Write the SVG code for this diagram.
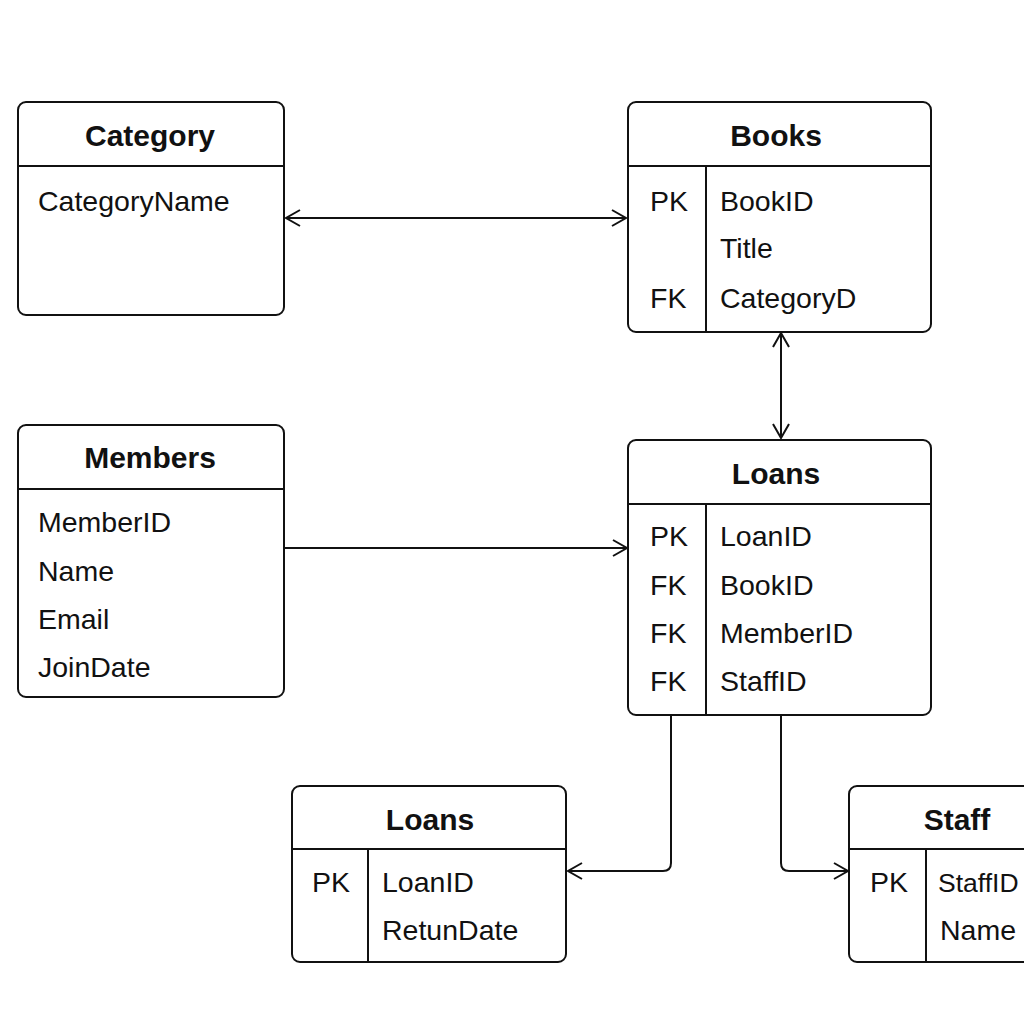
<svg xmlns="http://www.w3.org/2000/svg" width="1024" height="1024" viewBox="0 0 1024 1024">
<defs>
<style>
.box{fill:#fff;stroke:#111;stroke-width:2}
.ln{stroke:#111;stroke-width:2;fill:none}
.t{font-family:"Liberation Sans",Arial,sans-serif;font-size:30px;font-weight:bold;fill:#111;text-anchor:middle}
.f{font-family:"Liberation Sans",Arial,sans-serif;font-size:28.5px;fill:#111}
.c{fill:none;stroke:#111;stroke-width:2}
</style>
<marker id="arr" viewBox="0 0 20 20" refX="18" refY="10" markerWidth="20" markerHeight="20" markerUnits="userSpaceOnUse" orient="auto-start-reverse">
<path d="M4 2 L18 10 L4 18" fill="none" stroke="#111" stroke-width="2"/>
</marker>
</defs>
<rect width="1024" height="1024" fill="#fff"/>
<g id="category">
<rect class="box" x="18" y="102" width="266" height="213" rx="8"/>
<line class="ln" x1="18" y1="166" x2="284" y2="166"/>
<text class="t" x="150" y="146">Category</text>
<text class="f" x="38" y="211">CategoryName</text>
</g>
<g id="books">
<rect class="box" x="628" y="102" width="303" height="230" rx="8"/>
<line class="ln" x1="628" y1="166" x2="931" y2="166"/>
<line class="ln" x1="706" y1="166" x2="706" y2="332"/>
<text class="t" x="776" y="146">Books</text>
<text class="f" x="650" y="211">PK</text>
<text class="f" x="720" y="211">BookID</text>
<text class="f" x="720" y="258">Title</text>
<text class="f" x="650" y="308">FK</text>
<text class="f" x="720" y="308">CategoryD</text>
</g>
<g id="members">
<rect class="box" x="18" y="425" width="266" height="272" rx="8"/>
<line class="ln" x1="18" y1="489" x2="284" y2="489"/>
<text class="t" x="150" y="468">Members</text>
<text class="f" x="38" y="532">MemberID</text>
<text class="f" x="38" y="581">Name</text>
<text class="f" x="38" y="629">Email</text>
<text class="f" x="38" y="677">JoinDate</text>
</g>
<g id="loans">
<rect class="box" x="628" y="440" width="303" height="275" rx="8"/>
<line class="ln" x1="628" y1="504" x2="931" y2="504"/>
<line class="ln" x1="706" y1="504" x2="706" y2="715"/>
<text class="t" x="776" y="484">Loans</text>
<text class="f" x="650" y="546">PK</text>
<text class="f" x="720" y="546">LoanID</text>
<text class="f" x="650" y="595">FK</text>
<text class="f" x="720" y="595">BookID</text>
<text class="f" x="650" y="643">FK</text>
<text class="f" x="720" y="643">MemberID</text>
<text class="f" x="650" y="691">FK</text>
<text class="f" x="720" y="691">StaffID</text>
</g>
<g id="loans2">
<rect class="box" x="292" y="786" width="274" height="176" rx="8"/>
<line class="ln" x1="292" y1="849" x2="566" y2="849"/>
<line class="ln" x1="368" y1="849" x2="368" y2="962"/>
<text class="t" x="430" y="830">Loans</text>
<text class="f" x="312" y="892">PK</text>
<text class="f" x="382" y="892">LoanID</text>
<text class="f" x="382" y="940">RetunDate</text>
</g>
<g id="staff">
<rect class="box" x="849" y="786" width="200" height="176" rx="8"/>
<line class="ln" x1="849" y1="849" x2="1049" y2="849"/>
<line class="ln" x1="926" y1="849" x2="926" y2="962"/>
<text class="t" x="957" y="830">Staff</text>
<text class="f" x="870" y="892">PK</text>
<text class="f" x="938" y="892" style="font-size:26.5px">StaffID</text>
<text class="f" x="940" y="940">Name</text>
</g>
<g id="connectors">
<line class="c" x1="286" y1="218" x2="626" y2="218" marker-start="url(#arr)" marker-end="url(#arr)"/>
<line class="c" x1="781" y1="333" x2="781" y2="438" marker-start="url(#arr)" marker-end="url(#arr)"/>
<line class="c" x1="284" y1="548" x2="627" y2="548" marker-end="url(#arr)"/>
<path class="c" d="M671 715 V863 Q671 871 663 871 H568" marker-end="url(#arr)"/>
<path class="c" d="M781 715 V863 Q781 871 789 871 H848" marker-end="url(#arr)"/>
</g>
</svg>
